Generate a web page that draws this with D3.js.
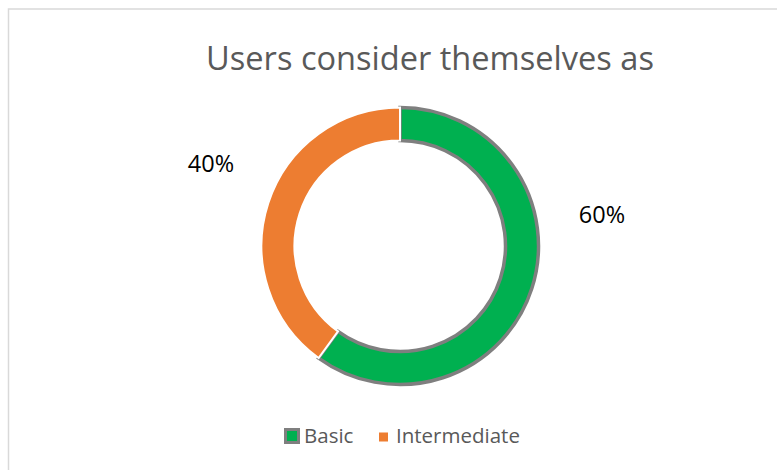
<!DOCTYPE html>
<html>
<head>
<meta charset="utf-8">
<script src="https://cdn.jsdelivr.net/npm/d3@7"></script>
<style>
  body { margin: 0; background: #ffffff; }
  svg { display: block; }
</style>
</head>
<body>
<svg id="chart" width="777" height="470"></svg>
<script>
// ---- data ----
const categories = ["Basic", "Intermediate"];
const shares = [60, 40];
const sliceColors = ["#00b050", "#ed7d31"];
const chartTitle = "Users consider themselves as";

// ---- layout ----
const W = 777, H = 470;
const cx = 400, cy = 246;
const outerR = 138.5, innerR = 105.5;
// label anchor (text centre x, baseline y) relative to the donut centre
const labelOffsets = [[202, -23], [-189, -74]];
const fontFamily = "'Open Sans', 'Noto Sans', 'DejaVu Sans', sans-serif";

const svg = d3.select("#chart");

// scale a text node so it spans the given width
function fitWidth(sel, width) {
  sel.attr("font-size", 100);
  const w = sel.node().getComputedTextLength();
  sel.attr("font-size", 100 * width / w);
  return sel;
}

// chart area frame
svg.append("rect")
  .attr("x", 8.5).attr("y", 9)
  .attr("width", W + 20).attr("height", H + 20)
  .attr("fill", "#ffffff")
  .attr("stroke", "#d9d9d9")
  .attr("stroke-width", 1.5);

// title
svg.append("text")
  .attr("x", 430).attr("y", 70)
  .attr("text-anchor", "middle")
  .attr("fill", "#595959")
  .attr("font-family", fontFamily)
  .text(chartTitle)
  .call(fitWidth, 448);

// donut
const data = categories.map((c, i) => ({ name: c, value: shares[i], color: sliceColors[i], idx: i }));
const pie = d3.pie().sort(null).value(d => d.value).startAngle(0).endAngle(2 * Math.PI);
const arcs = pie(data);
const arc = d3.arc().innerRadius(innerR).outerRadius(outerR);

const g = svg.append("g").attr("transform", `translate(${cx},${cy})`);

// the Basic slice carries a grey outline; the other slice is drawn over it with a white edge
g.selectAll("path.slice")
  .data(arcs)
  .join("path")
  .attr("class", "slice")
  .attr("d", arc)
  .attr("fill", d => d.data.color)
  .attr("stroke", d => d.data.idx === 0 ? "#7f7f7f" : "#ffffff")
  .attr("stroke-width", d => d.data.idx === 0 ? 3.5 : 2)
  .attr("stroke-linejoin", "miter");

// percentage labels
const total = d3.sum(shares);
g.selectAll("text.pct")
  .data(arcs)
  .join("text")
  .attr("class", "pct")
  .attr("x", (d, i) => labelOffsets[i][0])
  .attr("y", (d, i) => labelOffsets[i][1])
  .attr("text-anchor", "middle")
  .attr("fill", "#000000")
  .attr("font-family", fontFamily)
  .attr("font-size", 23.5)
  .text(d => Math.round(d.data.value / total * 100) + "%");

// legend
const legend = svg.append("g").attr("transform", "translate(0,443)");
const items = [
  { x: 284, size: 16, stroke: 3 },
  { x: 379, size: 9, stroke: 0 }
];
data.forEach((d, i) => {
  const it = items[i];
  const top = -15 + (16 - it.size) / 2 + (i === 1 ? 1 : 0);
  legend.append("rect")
    .attr("x", it.x + it.stroke / 2)
    .attr("y", top + it.stroke / 2)
    .attr("width", it.size - it.stroke)
    .attr("height", it.size - it.stroke)
    .attr("fill", d.color)
    .attr("stroke", it.stroke ? "#7f7f7f" : "none")
    .attr("stroke-width", it.stroke);
  legend.append("text")
    .attr("x", it.x + it.size + (i === 0 ? 4 : 8))
    .attr("y", 0)
    .attr("fill", "#595959")
    .attr("font-family", fontFamily)
    .attr("font-size", 20.5)
    .text(d.name);
});
</script>
</body>
</html>
